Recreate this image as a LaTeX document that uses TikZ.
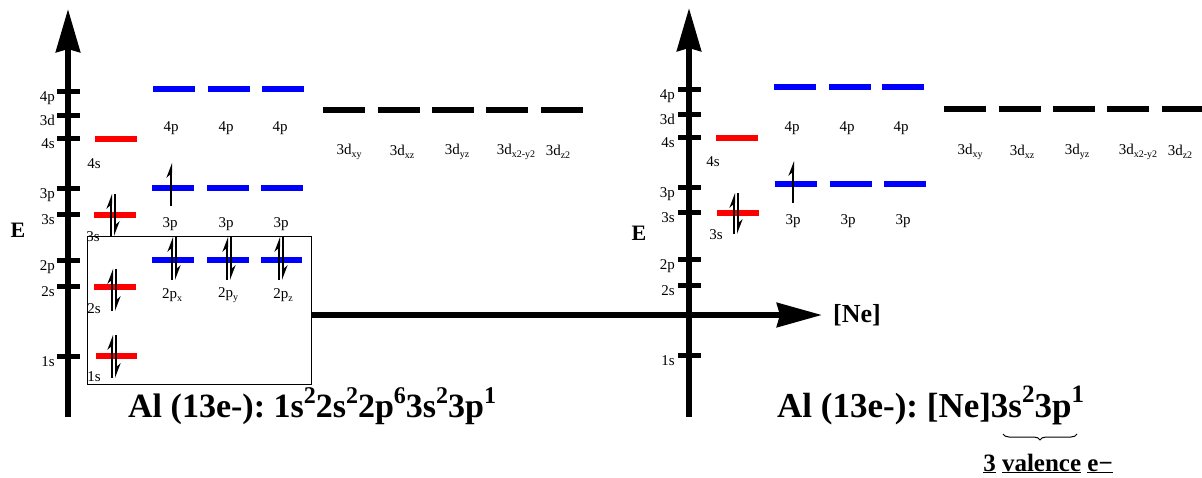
\documentclass[tikz,border=0pt]{standalone}
\usepackage{fontspec}
\setmainfont{Liberation Serif}
\usetikzlibrary{arrows.meta,decorations.pathreplacing}
\newcommand{\supr}[1]{\raisebox{15pt}{\fontsize{25}{25}\selectfont #1}}
\newcommand{\suprs}[1]{\raisebox{14pt}{\fontsize{24}{24}\selectfont #1}}
\newcommand{\subr}[1]{\raisebox{-3pt}{\fontsize{10}{10}\selectfont #1}}
\begin{document}
\frenchspacing
\begin{tikzpicture}[x=1pt,y=-1pt,
  axis/.style={line width=6pt,-{Stealth[length=43pt,width=24pt,inset=3pt]}},
  tickmark/.style={line width=5pt},
  ticklbl/.style={anchor=base east,inner sep=0pt,font=\fontsize{15}{15}\selectfont},
  orb/.style={line width=6pt},
  sorb/.style={orb,red},
  porb/.style={orb,blue},
  dorb/.style={orb,black},
  olbl/.style={inner sep=0pt,font=\fontsize{15}{15}\selectfont},
  elec/.style={line width=2pt,-{Stealth[harpoon,length=12pt,width=9pt]}},
  biglbl/.style={inner sep=0pt,font=\fontsize{22}{22}\selectfont\bfseries},
  formula/.style={anchor=base west,inner sep=0pt,font=\fontsize{35}{35}\selectfont\bfseries\frenchspacing}]
\useasboundingbox (0,0) rectangle (1202,478);

% ---------- left diagram ----------
\node[draw,line width=1.3pt,minimum width=224pt,minimum height=148pt,inner sep=0pt,anchor=north west] (box) at (87,236) {};

\coordinate (La0) at (68,417);
\coordinate (La1) at (68,9);
\draw[axis] (La0) -- (La1);
\foreach \y/\t in {92/4p,116/3d,139/4s,189/3p,215/3s,261/2p,287/2s,356/1s}{
  \draw[tickmark] (57,\y) -- (80,\y);
  \node[ticklbl] (L\t) at (55,\y+10) {\t};
}
\node[biglbl] (LE) at (18,230) {E};

% orbitals
\draw[porb] (153,89) -- (195,89) (208,89) -- (250,89) (262,89) -- (304,89);
\draw[sorb] (95,139) -- (137,139);
\draw[porb] (152,188) -- (194,188) (207,188) -- (249,188) (261,188) -- (303,188);
\draw[sorb] (94,215) -- (136,215);
\draw[porb] (152,260) -- (194,260) (207,260) -- (249,260) (261,260) -- (302,260);
\draw[sorb] (94,287) -- (136,287);
\draw[sorb] (96,356) -- (137,356);
\draw[dorb] (323,110) -- (365,110) (378,110) -- (420,110) (432,110) -- (474,110)
            (486,110) -- (528,110) (541,110) -- (583,110);

% orbital labels
\node[olbl] (l4p1) at (171,128) {4p};
\node[olbl] (l4p2) at (226,128) {4p};
\node[olbl] (l4p3) at (280,128) {4p};
\node[olbl] (l4s) at (94,164) {4s};
\node[olbl] (l3p1) at (170,224) {3p};
\node[olbl] (l3p2) at (226,224) {3p};
\node[olbl] (l3p3) at (281,224) {3p};
\node[olbl] (l3s) at (93,237) {3s};
\node[olbl] (l2p1) at (172,295) {2p\subr{x}};
\node[olbl] (l2p2) at (228,295) {2p\subr{y}};
\node[olbl] (l2p3) at (283,295) {2p\subr{z}};
\node[olbl] (l2s) at (94,309) {2s};
\node[olbl] (l1s) at (94,377) {1s};
\node[olbl] (l3d1) at (349,152) {3d\subr{xy}};
\node[olbl] (l3d2) at (402,152) {3d\subr{xz}};
\node[olbl] (l3d3) at (457,152) {3d\subr{yz}};
\node[olbl] (l3d4) at (516,152) {3d\subr{x2-y2}};
\node[olbl] (l3d5) at (558,152) {3d\subr{z2}};

% electrons
\draw[elec] (171,206) -- (171,163);
\draw[elec] (111,236) -- (111,194);
\draw[elec] (115,194) -- (115,236);
\draw[elec] (172,280) -- (172,237);
\draw[elec] (176,237) -- (176,280);
\draw[elec] (227,280) -- (227,237);
\draw[elec] (231,237) -- (231,280);
\draw[elec] (279,280) -- (279,237);
\draw[elec] (283,237) -- (283,280);
\draw[elec] (112,311) -- (112,269);
\draw[elec] (116,269) -- (116,311);
\draw[elec] (112,378) -- (112,335);
\draw[elec] (116,335) -- (116,378);

% ---------- arrow to [Ne] ----------
\coordinate (hs) at (311,315);
\coordinate (he) at (822,315);
\draw[line width=6pt,-{Stealth[length=45pt,width=24pt,inset=3pt]}] (hs) -- (he);
\node[anchor=west,inner sep=0pt,font=\fontsize{26}{26}\selectfont\bfseries] (ne) at (833,315) {[Ne]};

% ---------- right diagram ----------
\coordinate (Ra0) at (689,417);
\coordinate (Ra1) at (689,8);
\draw[axis] (Ra0) -- (Ra1);
\foreach \y/\t in {90/4p,115/3d,138/4s,188/3p,213/3s,260/2p,286/2s,355/1s}{
  \draw[tickmark] (678,\y) -- (701,\y);
  \node[ticklbl] (R\t) at (675,\y+10) {\t};
}
\node[biglbl] (RE) at (639,233) {E};

\draw[porb] (774,87) -- (816,87) (829,87) -- (871,87) (882,87) -- (924,87);
\draw[sorb] (716,138) -- (758,138);
\draw[porb] (775,184) -- (817,184) (830,184) -- (872,184) (884,184) -- (926,184);
\draw[sorb] (717,213) -- (759,213);
\draw[dorb] (944,109) -- (986,109) (999,109) -- (1041,109) (1053,109) -- (1095,109)
            (1107,109) -- (1149,109) (1162,109) -- (1204,109);

\node[olbl] (r4p1) at (792,128) {4p};
\node[olbl] (r4p2) at (847,128) {4p};
\node[olbl] (r4p3) at (901,128) {4p};
\node[olbl] (r4s) at (713,162) {4s};
\node[olbl] (r3p1) at (793,221) {3p};
\node[olbl] (r3p2) at (848,221) {3p};
\node[olbl] (r3p3) at (903,221) {3p};
\node[olbl] (r3s) at (716,235) {3s};
\node[olbl] (r3d1) at (970,152) {3d\subr{xy}};
\node[olbl] (r3d2) at (1022,152) {3d\subr{xz}};
\node[olbl] (r3d3) at (1077,152) {3d\subr{yz}};
\node[olbl] (r3d4) at (1138,152) {3d\subr{x2-y2}};
\node[olbl] (r3d5) at (1180,152) {3d\subr{z2}};

\draw[elec] (793,203) -- (793,161);
\draw[elec] (734,234) -- (734,193);
\draw[elec] (738,193) -- (738,234);

% ---------- formulas ----------
\node[formula,font=\fontsize{34}{34}\selectfont\bfseries\frenchspacing] (fl) at (128,417) {Al (13e-): 1s\suprs{2}2s\suprs{2}2p\suprs{6}3s\suprs{2}3p\suprs{1}};
\node[formula] (fr) at (777,417) {Al (13e-): [Ne]3s\supr{2}3p\supr{1}};
\coordinate (b0) at (1003,434);
\coordinate (b1) at (1077,434);
\draw[line width=1pt,decorate,decoration={brace,mirror,amplitude=6pt}] (b0) -- (b1);
\node[anchor=base,inner sep=0pt,font=\fontsize{25}{25}\selectfont\bfseries] (val) at (1048,471)
  {\underline{3} \underline{valence} \underline{e−}};
\end{tikzpicture}
\end{document}
